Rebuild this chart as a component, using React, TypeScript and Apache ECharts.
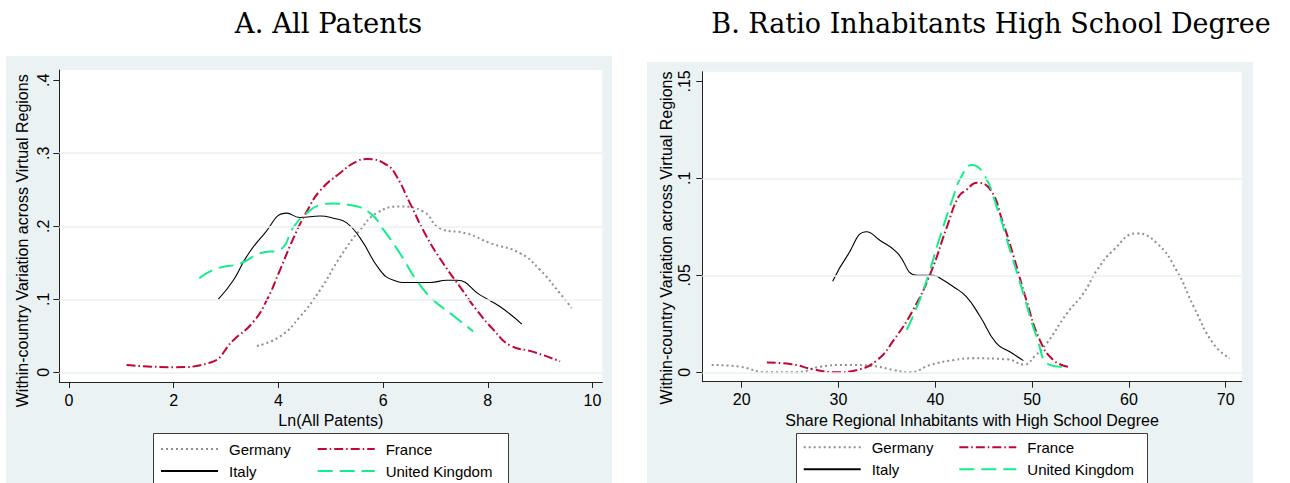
import React, { useEffect, useRef } from "react";
import * as echarts from "echarts";

// ---- Panel A: Ln(All Patents) ----
const germanyA_x = [3.59, 4.03, 4.41, 4.80, 5.18, 5.56, 5.88, 6.32, 6.77, 7.09, 7.60, 8.04, 8.62, 9.00, 9.38, 9.60];
const germanyA_y = [0.036, 0.049, 0.076, 0.113, 0.158, 0.195, 0.218, 0.227, 0.220, 0.197, 0.190, 0.177, 0.163, 0.140, 0.108, 0.088];
const italyA_x = [2.85, 3.14, 3.39, 3.71, 4.16, 4.41, 4.80, 5.05, 5.30, 5.56, 5.94, 6.20, 6.45, 6.90, 7.22, 7.41, 7.85, 8.23, 8.65];
const italyA_y = [0.100, 0.126, 0.158, 0.188, 0.218, 0.212, 0.214, 0.211, 0.205, 0.184, 0.140, 0.126, 0.123, 0.123, 0.126, 0.126, 0.106, 0.090, 0.066];
const franceA_x = [1.10, 1.99, 2.69, 3.14, 3.52, 3.78, 4.03, 4.29, 4.54, 4.80, 5.18, 5.50, 5.69, 6.07, 6.26, 6.51, 6.83, 7.15, 7.47, 7.79, 8.11, 8.42, 8.87, 9.38];
const franceA_y = [0.010, 0.007, 0.013, 0.044, 0.069, 0.099, 0.140, 0.184, 0.220, 0.249, 0.273, 0.289, 0.292, 0.284, 0.268, 0.232, 0.186, 0.149, 0.117, 0.085, 0.058, 0.037, 0.028, 0.015];
const ukA_x = [2.49, 2.82, 3.27, 3.65, 4.03, 4.29, 4.54, 4.80, 5.05, 5.37, 5.75, 6.01, 6.32, 6.64, 6.96, 7.28, 7.72];
const ukA_y = [0.129, 0.142, 0.149, 0.163, 0.168, 0.199, 0.218, 0.229, 0.231, 0.229, 0.218, 0.195, 0.163, 0.126, 0.099, 0.081, 0.056];

// ---- Panel B: Share Regional Inhabitants with High School Degree ----
const germanyB_x = [16.9, 19.8, 22.6, 25.7, 28.1, 30.9, 33.6, 35.7, 37.4, 39.5, 41.9, 43.9, 47.4, 49.2, 50.3, 51.5, 53.6, 55.3, 56.7, 58.4, 60.8, 62.9, 64.9, 66.7, 68.7, 70.4];
const germanyB_y = [0.0038, 0.0029, 0.0000, 0.0000, 0.0029, 0.0038, 0.0032, 0.0012, 0.0000, 0.0038, 0.0063, 0.0072, 0.0067, 0.0040, 0.0085, 0.0149, 0.0304, 0.0407, 0.0527, 0.0630, 0.0716, 0.0665, 0.0527, 0.0338, 0.0149, 0.0072];
const italyB_x = [29.4, 30.9, 32.9, 34.3, 36.0, 38.1, 39.8, 40.5, 41.9, 43.2, 44.6, 46.3, 47.7, 49.1];
const italyB_y = [0.047, 0.060, 0.0725, 0.068, 0.062, 0.050, 0.050, 0.0485, 0.044, 0.039, 0.029, 0.015, 0.0106, 0.006];
const franceB_x = [22.6, 25.0, 27.4, 29.8, 31.9, 34.0, 35.7, 37.7, 39.5, 41.2, 42.4, 43.2, 44.3, 45.7, 46.9, 48.1, 49.4, 50.8, 52.2, 53.7];
const franceB_y = [0.0050, 0.0043, 0.0015, 0.0000, 0.0012, 0.0063, 0.0166, 0.0321, 0.0510, 0.0750, 0.0905, 0.0940, 0.0977, 0.0940, 0.0785, 0.0596, 0.0373, 0.0166, 0.0063, 0.0029];
const ukB_x = [37.05, 38.76, 40.49, 41.86, 42.6, 43.76, 44.96, 46.34, 47.72, 49.09, 50.47, 51.85, 53.74];
const ukB_y = [0.0218, 0.0424, 0.0699, 0.0905, 0.100, 0.1069, 0.1026, 0.0854, 0.063, 0.0407, 0.0184, 0.0038, 0.0026];

// ---- ticks / labels ----
const xTicksA = [0, 2, 4, 6, 8, 10];
const yTicksA = [0, 0.1, 0.2, 0.3, 0.4];
const gridLinesA = [0, 0.1, 0.2, 0.3];
const xTicksB = [20, 30, 40, 50, 60, 70];
const yTicksB = [0, 0.05, 0.1, 0.15];
const gridLinesB = [0, 0.05, 0.1];

const titleA = "A. All Patents";
const titleB = "B. Ratio Inhabitants High School Degree";
const xTitleA = "Ln(All Patents)";
const xTitleB = "Share Regional Inhabitants with High School Degree";
const yTitle = "Within-country Variation across Virtual Regions";
const countries = ["Germany", "Italy", "France", "United Kingdom"];

const zip = (xs: number[], ys: number[]) => xs.map((x, i) => [x, ys[i]]);

const SANS = '"Liberation Sans", Arial, sans-serif';
const BG = "#EAF2F3";
const AXIS = "#222";

const styles: Record<string, any> = {
  Germany: { color: "#8f8f8f", width: 2, type: [2, 3] },
  Italy: { color: "#000000", width: 1.1, type: "solid" },
  France: { color: "#c10534", width: 2, type: [9, 3, 1.5, 3] },
  "United Kingdom": { color: "#14ee8a", width: 2, type: [15, 7] },
};

const fmtY = (v: number) => (v === 0 ? "0" : String(v).replace(/^0\./, "."));

function mkSeries(name: string, xs: number[], ys: number[], idx: number) {
  return {
    name,
    type: "line",
    xAxisIndex: idx,
    yAxisIndex: idx,
    data: zip(xs, ys),
    smooth: 0.5,
    symbol: "none",
    showSymbol: false,
    lineStyle: { ...styles[name] },
    itemStyle: { color: styles[name].color },
    z: 3,
  };
}

function gridSeries(values: number[], idx: number) {
  return {
    type: "line",
    xAxisIndex: idx,
    yAxisIndex: idx,
    data: [],
    silent: true,
    z: 1,
    markLine: {
      silent: true,
      symbol: ["none", "none"],
      label: { show: false },
      lineStyle: { color: BG, width: 1.5, type: "solid" },
      data: values.map((v) => ({ yAxis: v })),
    },
  };
}

function xAxis(idx: number, min: number, max: number, ticks: number[], name: string) {
  return {
    type: "value",
    gridIndex: idx,
    min,
    max,
    axisLine: { show: true, onZero: false, lineStyle: { color: AXIS, width: 1 } },
    axisTick: { show: true, length: 6, customValues: ticks, lineStyle: { color: AXIS } },
    axisLabel: { customValues: ticks, fontSize: 16, color: "#000", margin: 10, fontFamily: SANS },
    splitLine: { show: false },
    name,
    nameLocation: "middle",
    nameGap: 25,
    nameTextStyle: { fontSize: 16, color: "#000", fontFamily: SANS },
  };
}

function yAxis(idx: number, min: number, max: number, ticks: number[], margin: number) {
  return {
    type: "value",
    gridIndex: idx,
    min,
    max,
    axisLine: { show: true, onZero: false, lineStyle: { color: AXIS, width: 1 } },
    axisTick: { show: true, length: 6, customValues: ticks, lineStyle: { color: AXIS } },
    axisLabel: {
      customValues: ticks,
      rotate: 90,
      align: "center",
      verticalAlign: "bottom",
      fontSize: 16,
      color: "#000",
      margin,
      fontFamily: SANS,
      formatter: fmtY,
    },
    splitLine: { show: false },
  };
}

function legendCol(left: number, top: number, data: string[]) {
  return {
    show: true,
    orient: "vertical",
    left,
    top,
    padding: 0,
    itemGap: 7,
    itemWidth: 57,
    itemHeight: 14,
    selectedMode: false,
    itemStyle: { opacity: 0, borderWidth: 0 },
    data,
    textStyle: { fontSize: 15, color: "#000", fontFamily: SANS, lineHeight: 15, padding: [0, 0, 0, 6] },
  };
}

export default function App() {
  const ref = useRef<HTMLDivElement>(null);
  useEffect(() => {
    if (!ref.current) return;
    const chart = echarts.init(ref.current, null, { renderer: "svg" });
    const option: any = {
      animation: false,
      backgroundColor: "#ffffff",
      textStyle: { fontFamily: SANS },
      grid: [
        { left: 59.3, top: 70, width: 543, height: 312, show: true, backgroundColor: "#ffffff", borderWidth: 0 },
        { left: 702.3, top: 71.7, width: 539.4, height: 310, show: true, backgroundColor: "#ffffff", borderWidth: 0 },
      ],
      xAxis: [xAxis(0, -0.185, 10.187, xTicksA, xTitleA), xAxis(1, 15.93, 71.65, xTicksB, xTitleB)],
      yAxis: [yAxis(0, -0.0133, 0.414, yTicksA, 8), yAxis(1, -0.00485, 0.155, yTicksB, 10)],
      legend: [
        legendCol(160, 441.5, [countries[0], countries[1]]),
        legendCol(316.7, 441.5, [countries[2], countries[3]]),
        legendCol(802.7, 439.8, [countries[0], countries[1]]),
        legendCol(958.3, 439.8, [countries[2], countries[3]]),
      ],
      graphic: [
        { type: "rect", z: -10, silent: true, shape: { x: 6, y: 56, width: 606, height: 427 }, style: { fill: BG } },
        { type: "rect", z: -10, silent: true, shape: { x: 647, y: 62, width: 606, height: 421 }, style: { fill: BG } },
        { type: "rect", z: 1, silent: true, shape: { x: 153.5, y: 433.5, width: 355, height: 60 }, style: { fill: "#fff", stroke: "#3c3c3c", lineWidth: 1 } },
        { type: "rect", z: 1, silent: true, shape: { x: 796.5, y: 433.5, width: 351, height: 60 }, style: { fill: "#fff", stroke: "#3c3c3c", lineWidth: 1 } },
        { type: "text", silent: true, x: 328.5, y: 23, style: { text: titleA, fill: "#000", font: '27.5px "DejaVu Serif", serif', align: "center", verticalAlign: "middle" } },
        { type: "text", silent: true, x: 991, y: 23, style: { text: titleB, fill: "#000", font: '27px "DejaVu Serif", serif', align: "center", verticalAlign: "middle" } },
        { type: "text", silent: true, x: 22.5, y: 240.8, rotation: Math.PI / 2, style: { text: yTitle, fill: "#000", font: '16px "Liberation Sans", Arial, sans-serif', align: "center", verticalAlign: "middle" } },
        { type: "text", silent: true, x: 666, y: 238, rotation: Math.PI / 2, style: { text: yTitle, fill: "#000", font: '16px "Liberation Sans", Arial, sans-serif', align: "center", verticalAlign: "middle" } },
      ],
      series: [
        gridSeries(gridLinesA, 0),
        gridSeries(gridLinesB, 1),
        mkSeries("Germany", germanyA_x, germanyA_y, 0),
        mkSeries("Italy", italyA_x, italyA_y, 0),
        mkSeries("France", franceA_x, franceA_y, 0),
        mkSeries("United Kingdom", ukA_x, ukA_y, 0),
        mkSeries("Germany", germanyB_x, germanyB_y, 1),
        mkSeries("Italy", italyB_x, italyB_y, 1),
        mkSeries("France", franceB_x, franceB_y, 1),
        mkSeries("United Kingdom", ukB_x, ukB_y, 1),
      ],
    };
    chart.setOption(option);
    return () => chart.dispose();
  }, []);
  return <div ref={ref} style={{ position: "absolute", left: 0, top: 0, width: 1290, height: 483 }} />;
}
